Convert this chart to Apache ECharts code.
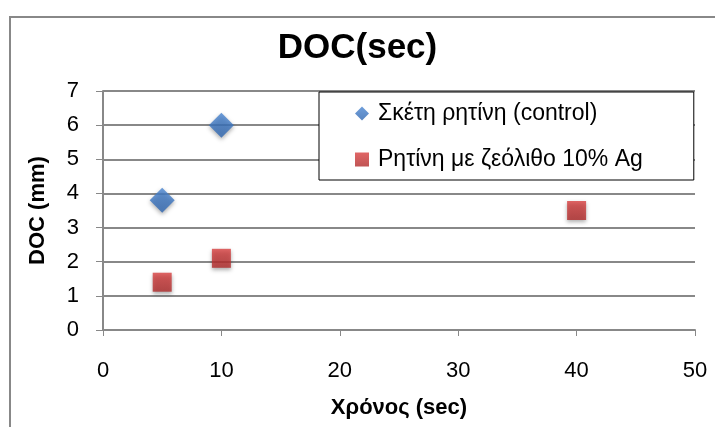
<!DOCTYPE html>
<html><head><meta charset="utf-8">
<script src="https://cdn.jsdelivr.net/npm/echarts@6/dist/echarts.min.js"></script>
<style>html,body{margin:0;padding:0;background:#fff}#c{width:715px;height:427px}</style>
</head><body><div id="c"></div>
<script>
const seriesNames = ['Σκέτη ρητίνη (control)', 'Ρητίνη με ζεόλιθο 10% Ag'];
const controlX = [5, 10];
const controlY = [3.8, 6.0];
const agX = [5, 10, 40];
const agY = [1.4, 2.1, 3.5];
const xTicks = [0, 10, 20, 30, 40, 50];
const yTicks = [0, 1, 2, 3, 4, 5, 6, 7];

const font = 'Liberation Sans';
const chart = echarts.init(document.getElementById('c'));
chart.setOption({
  animation: false,
  backgroundColor: '#fff',
  textStyle: { fontFamily: font },
  title: {
    text: 'DOC(sec)', left: 'center', top: 26,
    textStyle: { fontSize: 35, fontWeight: 'bold', color: '#000', fontFamily: font }
  },
  graphic: [{
    type: 'polyline', silent: true,
    shape: { points: [[10, 427], [10, 17], [715, 17]] },
    style: { stroke: '#888', lineWidth: 2, fill: null }
  }],
  grid: { left: 103, right: 20, top: 91, bottom: 97 },
  legend: {
    orient: 'vertical', left: 319, top: 92,
    backgroundColor: '#fff', borderColor: '#000', borderWidth: 1,
    padding: [10, 51, 9, 36], itemGap: 23,
    itemWidth: 14, itemHeight: 14,
    textStyle: { fontSize: 23, color: '#000', fontFamily: font, padding: [0, 0, 0, 4] },
    data: [{ name: seriesNames[0], icon: 'diamond' }, { name: seriesNames[1], icon: 'rect' }]
  },
  xAxis: {
    type: 'value', min: xTicks[0], max: xTicks[xTicks.length - 1], interval: 10,
    name: 'Χρόνος (sec)', nameLocation: 'middle', nameGap: 67,
    nameTextStyle: { fontSize: 22, fontWeight: 'bold', color: '#000', fontFamily: font },
    axisLine: { lineStyle: { color: '#888', width: 2 } },
    axisTick: { show: true, length: 6, lineStyle: { color: '#888', width: 1 } },
    axisLabel: { fontSize: 22, color: '#000', margin: 30, fontFamily: font },
    splitLine: { show: false }
  },
  yAxis: {
    type: 'value', min: yTicks[0], max: yTicks[yTicks.length - 1], interval: 1,
    name: 'DOC (mm)', nameLocation: 'middle', nameGap: 54,
    nameTextStyle: { fontSize: 22, fontWeight: 'bold', color: '#000', fontFamily: font },
    axisLine: { show: true, lineStyle: { color: '#888', width: 2 } },
    axisTick: { show: true, length: 7, lineStyle: { color: '#888', width: 1 } },
    axisLabel: { fontSize: 22, color: '#000', margin: 24, fontFamily: font },
    splitLine: { show: true, lineStyle: { color: '#888', width: 2 } }
  },
  series: [{
    name: seriesNames[0], type: 'scatter', symbol: 'diamond', symbolSize: 25,
    data: controlX.map((x, i) => [x, controlY[i]]),
    itemStyle: {
      color: new echarts.graphic.LinearGradient(0, 0, 0, 1, [{ offset: 0, color: '#4a86d2' }, { offset: 1, color: '#2f66b0' }]),
      shadowBlur: 4, shadowColor: 'rgba(0,0,0,0.4)', shadowOffsetY: 2
    }
  }, {
    name: seriesNames[1], type: 'scatter', symbol: 'rect', symbolSize: 19,
    data: agX.map((x, i) => [x, agY[i]]),
    itemStyle: {
      color: new echarts.graphic.LinearGradient(0, 0, 0, 1, [{ offset: 0, color: '#d94040' }, { offset: 1, color: '#b02a2a' }]),
      shadowBlur: 4, shadowColor: 'rgba(0,0,0,0.4)', shadowOffsetY: 2
    }
  }]
});
</script></body></html>
